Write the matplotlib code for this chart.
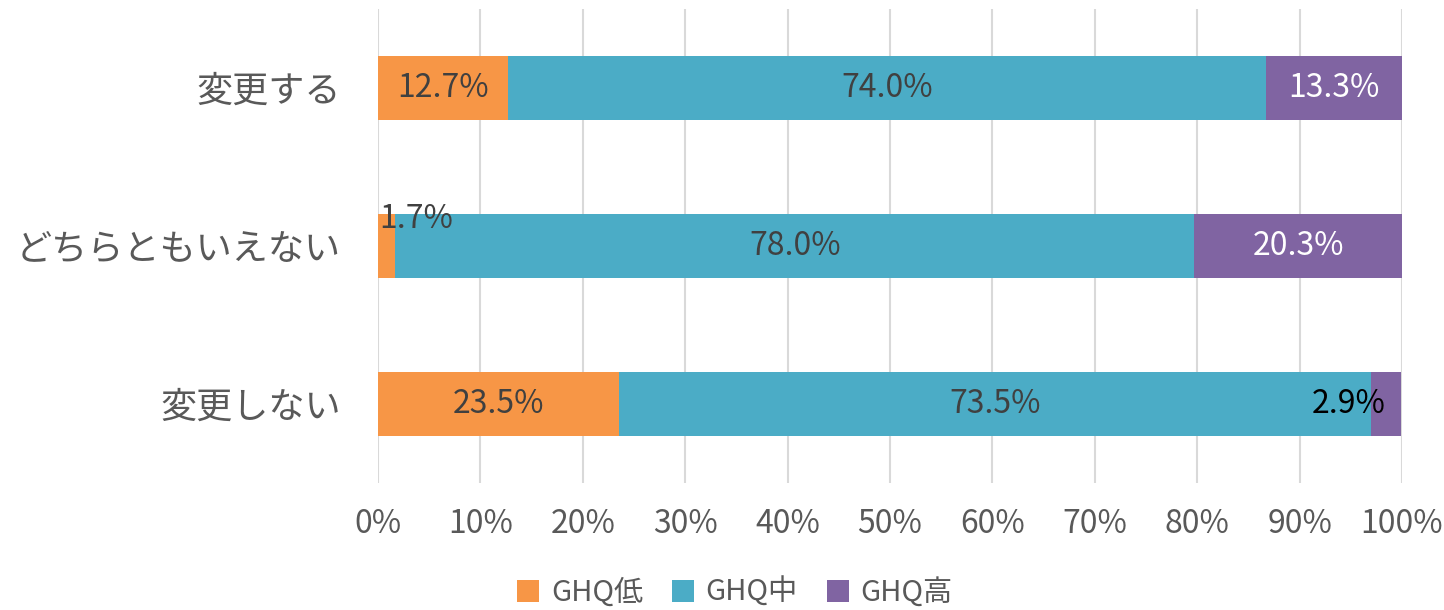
import matplotlib
matplotlib.use("Agg")
import matplotlib.pyplot as plt
import numpy as np

plt.rcParams['font.family'] = ['Noto Sans CJK JP', 'DejaVu Sans']

categories = ["変更する", "どちらともいえない", "変更しない"]
series_names = ["GHQ低", "GHQ中", "GHQ高"]
ghq_low = [12.7, 1.7, 23.5]
ghq_mid = [74.0, 78.0, 73.5]
ghq_high = [13.3, 20.3, 2.9]
x_ticks = list(range(0, 101, 10))

colors = ["#F79646", "#4BACC6", "#8064A2"]
text_gray = "#595959"
label_gray = "#404040"


def main():
    fig = plt.figure(figsize=(14.44, 6.10), dpi=100)
    ax = fig.add_axes([0.2618, 0.2082, 0.7091, 0.777])

    y = np.arange(len(categories))
    left = np.zeros(len(categories))
    bars = []
    for vals, name, c in zip([ghq_low, ghq_mid, ghq_high], series_names, colors):
        ax.barh(y, vals, left=left, height=0.4, color=c, label=name, zorder=3)
        bars.append((vals, left.copy()))
        left = left + np.array(vals)

    # data labels
    fs = 23
    for si, (vals, lefts) in enumerate(bars):
        for i, v in enumerate(vals):
            cx = lefts[i] + v / 2
            txt = f"{v:.1f}%"
            col = label_gray
            if si == 2 and v > 10:
                col = "white"
            if si == 0 and v < 5:
                # small segment - label sits above the bar
                ax.text(0.1, y[i] - 0.17, txt, ha="left", va="center",
                        fontsize=fs, color=label_gray, zorder=4)
                continue
            if si == 2 and v < 5:
                ax.text(cx, y[i], txt, ha="right", va="center",
                        fontsize=fs, color="black", zorder=4)
                continue
            ax.text(cx, y[i], txt, ha="center", va="center",
                    fontsize=fs, color=col, zorder=4)

    ax.set_xlim(0, 100)
    ax.set_ylim(-0.5, len(categories) - 0.5)
    ax.invert_yaxis()
    ax.set_yticks(y)
    ax.set_yticklabels(categories, fontsize=26, color=text_gray)
    ax.set_xticks(x_ticks)
    ax.set_xticklabels([f"{t}%" for t in x_ticks], fontsize=23, color=text_gray)
    ax.tick_params(axis="both", length=0)
    ax.tick_params(axis="x", pad=18)
    ax.tick_params(axis="y", pad=27)
    for s in ax.spines.values():
        s.set_visible(False)
    ax.grid(axis="x", color="#D9D9D9", linewidth=1.5, zorder=0)
    ax.set_axisbelow(True)

    leg = fig.legend(loc="lower center", bbox_to_anchor=(0.509, -0.04), ncol=3,
                     frameon=False, fontsize=21, handlelength=0.75, handleheight=0.75,
                     handletextpad=0.4, columnspacing=1.0)
    for t in leg.get_texts():
        t.set_color(text_gray)

    fig.savefig("out.png", dpi=100)


if __name__ == "__main__":
    main()
